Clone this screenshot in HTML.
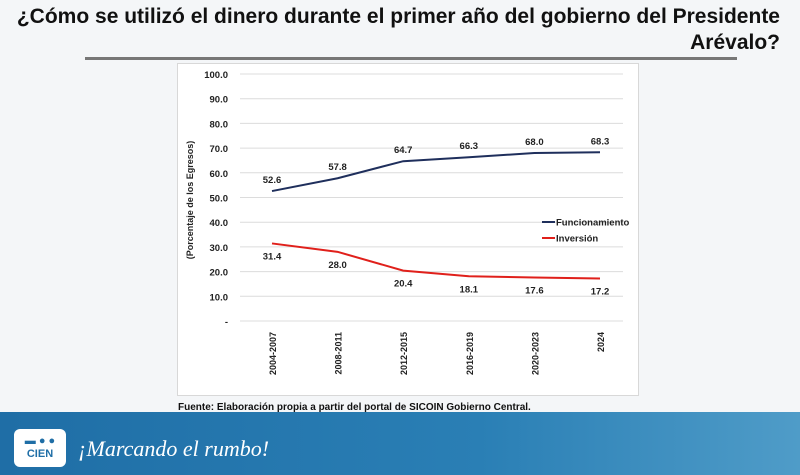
<!DOCTYPE html>
<html><head><meta charset="utf-8">
<style>
body{margin:0;width:800px;height:475px;overflow:hidden;background:#f4f6f8;font-family:"Liberation Sans",sans-serif;position:relative}
#title{position:absolute;left:0;top:4px;width:780px;text-align:right;font-size:21px;font-weight:bold;color:#111;line-height:26px}
#rule{position:absolute;left:85px;top:57px;width:652px;height:3px;background:#777}
#chartbox{position:absolute;left:177px;top:63px;width:460px;height:331px;background:#fff;border:1px solid #d8d8d8}
#fuente{position:absolute;left:178px;top:402px;font-size:10px;font-weight:bold;color:#111}
#footer{position:absolute;left:0;top:412px;width:800px;height:63px;background:linear-gradient(90deg,#1f6ea6,#2a7fb5 60%,#4f9cc8)}
#logo{position:absolute;left:14px;top:429px;width:52px;height:38px;background:#fff;border-radius:6px;color:#1f6ea6;font-weight:bold;font-size:11px;text-align:center;line-height:13px;padding-top:6px;box-sizing:border-box}
#slogan{position:absolute;left:78px;top:436px;color:#fff;font-family:"Liberation Serif",serif;font-style:italic;font-size:22px}
</style></head><body>
<div id="title">¿Cómo se utilizó el dinero durante el primer año del gobierno del Presidente<br>Arévalo?</div>
<div id="rule"></div>
<div id="chartbox"></div>
<svg id="chart" width="800" height="475" style="position:absolute;left:0;top:0"></svg>
<div id="fuente">Fuente: Elaboración propia a partir del portal de SICOIN Gobierno Central.</div>
<div id="footer"></div>
<div id="logo">▬ ● ●<br>CIEN</div>
<div id="slogan">¡Marcando el rumbo!</div>
<script>
const categories=["2004-2007","2008-2011","2012-2015","2016-2019","2020-2023","2024"];
const funcionamiento=[52.6,57.8,64.7,66.3,68.0,68.3];
const inversion=[31.4,28.0,20.4,18.1,17.6,17.2];
const yTicks=[0,10,20,30,40,50,60,70,80,90,100];
const seriesNames=["Funcionamiento","Inversión"];
const svg=document.getElementById('chart');const NS="http://www.w3.org/2000/svg";
function y(v){return 321-2.47*v}
function x(i){return 272+65.6*i}
function mk(t,a,txt){const e=document.createElementNS(NS,t);for(const k in a)e.setAttribute(k,a[k]);if(txt!=null)e.textContent=txt;svg.appendChild(e);return e}
yTicks.forEach(v=>{
 const g=mk('line',{x1:240,x2:623,y1:y(v),y2:y(v),stroke:'#dcdcdc','stroke-width':1});
 
 
 const t=mk('text',{x:228,y:y(v)+4,'text-anchor':'end','font-size':9.5,'font-weight':'bold',fill:'#222'},v===0?'-':v.toFixed(1));
 
 
});
const yt=mk('text',{transform:'translate(193,200) rotate(-90)','text-anchor':'middle','font-size':9,'font-weight':'bold',fill:'#222'},'(Porcentaje de los Egresos)');


categories.forEach((c,i)=>{
 const t=mk('text',{transform:`translate(${x(i)+4},332) rotate(-90)`,'text-anchor':'end','font-size':9,'font-weight':'bold',fill:'#222'},c);
 
 
});
function series(data,color,name,dy){
 const p=mk('polyline',{points:data.map((v,i)=>x(i)+','+y(v)).join(' '),fill:'none',stroke:color,'stroke-width':2});
 
 
 data.forEach((v,i)=>{
  const t=mk('text',{x:x(i),y:y(v)+dy,'text-anchor':'middle','font-size':9.5,'font-weight':'bold',fill:'#222'},v.toFixed(1));
  
  
 });
}
series(funcionamiento,'#1f2f5c','funcionamiento',-8);
series(inversion,'#e0201b','inversion',16);
[['#1f2f5c',222],['#e0201b',238]].forEach((s,i)=>{
 const l=mk('line',{x1:542,x2:555,y1:s[1],y2:s[1],stroke:s[0],'stroke-width':2});
 
 
 const t=mk('text',{x:556,y:s[1]+3.5,'font-size':9.5,'font-weight':'bold',fill:'#222'},seriesNames[i]);
 
 
});
</script>
</body></html>
